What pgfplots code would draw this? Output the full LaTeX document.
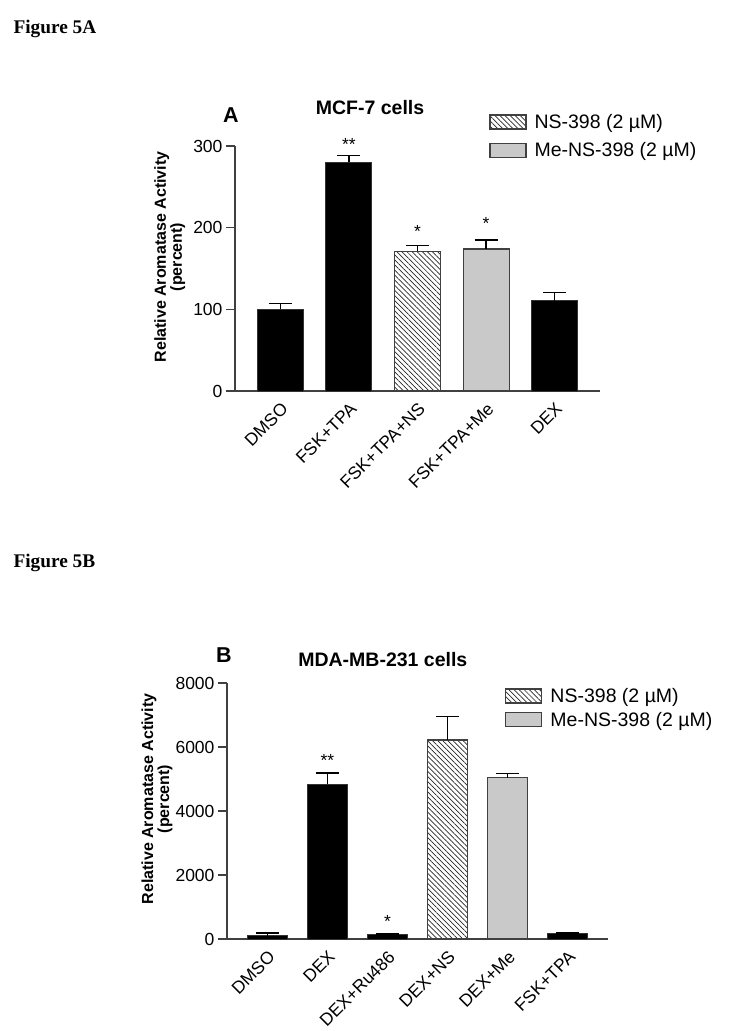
\documentclass[border=0pt]{standalone}
\usepackage{fontspec}
\setmainfont{Liberation Sans}
\newfontfamily\figfont{Liberation Serif}
\usepackage{pgfplots}
\pgfplotsset{compat=1.18}
\usetikzlibrary{patterns.meta}

\newcommand{\fs}[1]{\fontsize{#1}{#1}\selectfont}

\pgfplotsset{
  legbox/.style={legend image code/.code={\draw[##1] (0pt,-7pt) rectangle (36pt,7pt);}},
  barchart/.style={
    scale only axis, clip=false,
    axis x line*=bottom, axis y line*=left,
    axis line style={draw=black!75, line width=1.5pt},
    ymin=0,
    tick align=outside, major tick length=9pt,
    ytick style={draw=black!75, line width=1.5pt},
    xtick style={draw=none},
    tick label style={font=\fs{17.5}},
    /pgf/number format/assume math mode=true,
    /pgf/number format/1000 sep={},
    xticklabel style={rotate=45, anchor=north east, inner sep=1pt},
    ylabel style={font=\bfseries\fs{16}, align=center, anchor=center},
    title style={font=\bfseries\fs{19.5}, anchor=center},
    legend style={draw=none, fill=none, font=\fs{19.5}, anchor=north west,
      cells={anchor=west}, column sep=6pt},
  },
  errs/.style={
    /pgfplots/error bars/y dir=plus,
    /pgfplots/error bars/y explicit,
    /pgfplots/error bars/error bar style={draw=black, line width=1.3pt},
    /pgfplots/error bars/error mark options={rotate=90, mark size=11.5pt, line width=1.3pt, draw=black}},
  blackbar/.style={ybar, bar width=0.67, fill=black, draw=black!80,
    line width=1pt, forget plot, errs},
  hatchbar/.style={ybar, bar width=0.67, draw=black!75, line width=1.2pt,
    pattern={Lines[angle=-45,distance=3.6pt,line width=0.7pt]},
    pattern color=black!85, errs, legbox},
  graybar/.style={ybar, bar width=0.67, draw=black!75, line width=1.2pt,
    fill=black!21, errs, legbox},
  stars/.style={draw=none, mark=none, forget plot, nodes near coords,
    point meta=explicit symbolic,
    nodes near coords style={font=\fs{17.5}, anchor=center, inner sep=0pt}},
}

\begin{document}
\begin{tikzpicture}
\path[use as bounding box] (0pt,0pt) rectangle (729pt,-1031pt);

\node[anchor=base west, font=\figfont\bfseries\fs{19.3}] at (10pt,-33pt) {Figure 5A};
\node[anchor=base west, font=\figfont\bfseries\fs{19.3}] at (10pt,-567pt) {Figure 5B};
\node[font=\bfseries\fs{21.5}] at (231pt,-115pt) {A};
\node[font=\bfseries\fs{21.5}] at (224pt,-655pt) {B};

% panel A: MCF-7
\begin{axis}[barchart,
  at={(235pt,-391pt)}, anchor=south west,
  width=365pt, height=245pt,
  xmin=-0.66, xmax=4.66, ymax=300,
  ytick={0,100,200,300},
  xtick={0,1,2,3,4},
  xticklabels={DMSO,FSK+TPA,FSK+TPA+NS,FSK+TPA+Me,DEX},
  ylabel={Relative Aromatase Activity\\(percent)},
  ylabel style={at={(axis description cs:-0.179,0.547)}},
  title={MCF-7 cells},
  title style={at={(axis description cs:0.37,1.131)}},
  legend style={at={(axis description cs:0.688,1.147)}, row sep=9pt},
]
\addplot[blackbar] coordinates {(0,100) +- (0,7) (1,280) +- (0,8.6) (4,110.5) +- (0,10.3)};
\addplot[hatchbar] coordinates {(2,171) +- (0,7)};
\addlegendentry{NS-398 (2 µM)}
\addplot[graybar] coordinates {(3,174) +- (0,11)};
\addlegendentry{Me-NS-398 (2 µM)}
\addplot[stars] coordinates {(1,302) [**] (2,195) [*] (3,205) [*]};
\end{axis}

% panel B: MDA-MB-231
\begin{axis}[barchart,
  at={(227pt,-939pt)}, anchor=south west,
  width=381pt, height=256pt,
  xmin=-0.67, xmax=5.67, ymax=8000,
  ytick={0,2000,4000,6000,8000},
  xtick={0,1,2,3,4,5},
  xticklabels={DMSO,DEX,DEX+Ru486,DEX+NS,DEX+Me,FSK+TPA},
  ylabel={Relative Aromatase Activity\\(percent)},
  ylabel style={at={(axis description cs:-0.184,0.547)}},
  title={MDA-MB-231 cells},
  title style={at={(axis description cs:0.409,1.070)}},
  legend style={at={(axis description cs:0.722,0.996)}, row sep=4pt},
]
\addplot[blackbar] coordinates {(0,100) +- (0,90) (1,4840) +- (0,345) (2,140) +- (0,20) (5,160) +- (0,30)};
\addplot[hatchbar] coordinates {(3,6220) +- (0,730)};
\addlegendentry{NS-398 (2 µM)}
\addplot[graybar] coordinates {(4,5040) +- (0,130)};
\addlegendentry{Me-NS-398 (2 µM)}
\addplot[stars] coordinates {(1,5580) [**] (2,560) [*]};
\end{axis}
\end{tikzpicture}
\end{document}
